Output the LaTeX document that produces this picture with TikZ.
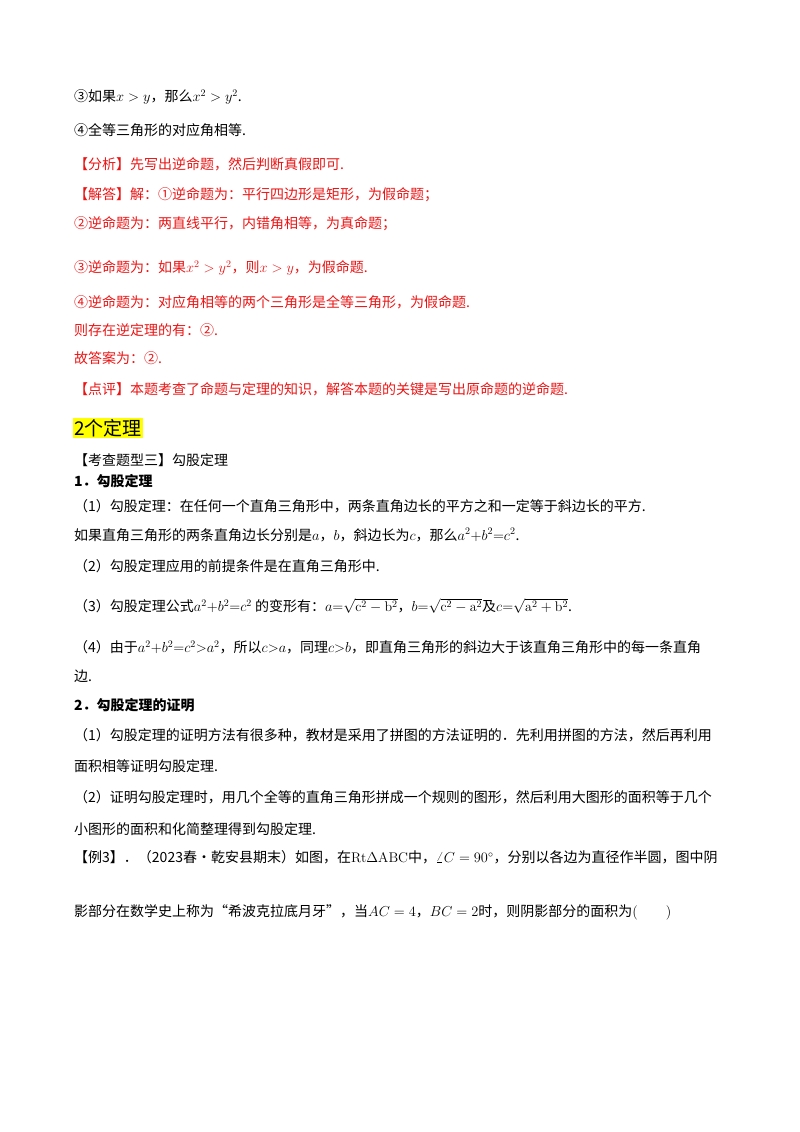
\documentclass[tikz,border=0pt]{standalone}
\usepackage{amsmath}
\usepackage{fontspec}
\usepackage{tikz}
\newfontfamily\cjk{Noto Sans CJK SC}
\definecolor{ansred}{RGB}{235,20,20}
\definecolor{hlyellow}{RGB}{255,255,0}

\begin{document}
\begin{tikzpicture}[x=1pt,y=-1pt,
        txt/.style = {anchor=west, inner sep=0pt,
            font=\cjk\fontsize{14}{16}\selectfont},
        ans/.style = {txt, text=ansred}]

        % Page
        \useasboundingbox (0,0) rectangle (800,1132);

        % Exercise lines
        \node[txt] (l1) at (74,97) {③如果$x>y$，那么$x^2>y^2$.};
        \node[txt] (l2) at (74,130) {④全等三角形的对应角相等.};

        % Answer in red
        \node[ans] (a1) at (74,164) {【分析】先写出逆命题，然后判断真假即可.};
        \node[ans] (a2) at (74,195) {【解答】解：①逆命题为：平行四边形是矩形，为假命题；};
        \node[ans] (a3) at (74,224) {②逆命题为：两直线平行，内错角相等，为真命题；};
        \node[ans] (a4) at (74,268) {③逆命题为：如果$x^2>y^2$，则$x>y$，为假命题.};
        \node[ans] (a5) at (74,302) {④逆命题为：对应角相等的两个三角形是全等三角形，为假命题.};
        \node[ans] (a6) at (74,330) {则存在逆定理的有：②.};
        \node[ans] (a7) at (74,358) {故答案为：②.};
        \node[ans] (a8) at (74,389) {【点评】本题考查了命题与定理的知识，解答本题的关键是写出原命题的逆命题.};

        % Section head
        \node[txt, fill=hlyellow, inner sep=1pt,
            font=\cjk\fontsize{19}{22}\selectfont] (s1) at (73,428) {2个定理};
        \node[txt] (s2) at (74,460) {【考查题型三】勾股定理};
        \node[txt, font=\cjk\bfseries\fontsize{14}{16}\selectfont] (s3) at (74,481) {1．勾股定理};

        % Theorem
        \node[txt] (t1) at (74,506) {（1）勾股定理：在任何一个直角三角形中，两条直角边长的平方之和一定等于斜边长的平方.};
        \node[txt] (t2) at (74,535) {如果直角三角形的两条直角边长分别是$a$，$b$，斜边长为$c$，那么$a^2{+}b^2{=}c^2$.};
        \node[txt] (t3) at (74,566) {（2）勾股定理应用的前提条件是在直角三角形中.};
        \node[txt] (t4) at (74,606) {（3）勾股定理公式$a^2{+}b^2{=}c^2$ 的变形有：$a{=}\sqrt{\mathrm{c}^2-\mathrm{b}^2}$，$b{=}\sqrt{\mathrm{c}^2-\mathrm{a}^2}$及$c{=}\sqrt{\mathrm{a}^2+\mathrm{b}^2}$.};
        \node[txt] (t5) at (74,647) {（4）由于$a^2{+}b^2{=}c^2{>}a^2$，所以$c{>}a$，同理$c{>}b$，即直角三角形的斜边大于该直角三角形中的每一条直角};
        \node[txt] (t6) at (74,676) {边.};

        % Proof
        \node[txt, font=\cjk\bfseries\fontsize{14}{16}\selectfont] (p0) at (74,705) {2．勾股定理的证明};
        \node[txt] (p1) at (74,735) {（1）勾股定理的证明方法有很多种，教材是采用了拼图的方法证明的．先利用拼图的方法，然后再利用};
        \node[txt] (p2) at (74,766) {面积相等证明勾股定理.};
        \node[txt] (p3) at (74,797) {（2）证明勾股定理时，用几个全等的直角三角形拼成一个规则的图形，然后利用大图形的面积等于几个};
        \node[txt] (p4) at (74,829) {小图形的面积和化简整理得到勾股定理.};

        % Example
        \node[txt] (e1) at (74,857) {【例3】．（2023春•乾安县期末）如图，在$\mathrm{Rt}\Delta\mathrm{ABC}$中，$\angle C=90^\circ$，分别以各边为直径作半圆，图中阴};
        \node[txt] (e2) at (74,912) {影部分在数学史上称为“希波克拉底月牙”，当$AC=4$，$BC=2$时，则阴影部分的面积为$(\qquad)$};

    \end{tikzpicture}
\end{document}
